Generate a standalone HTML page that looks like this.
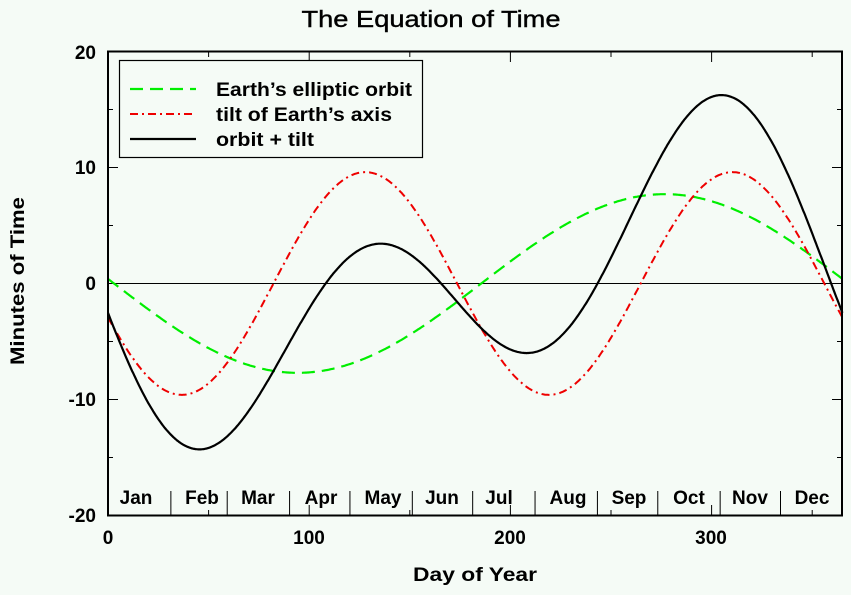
<!DOCTYPE html>
<html><head><meta charset="utf-8"><style>
body{margin:0;background:#f5fbf6;}
svg{display:block;font-family:"Liberation Sans",sans-serif;}
</style></head><body>
<svg id="s" width="851" height="595" xmlns="http://www.w3.org/2000/svg">
<rect width="851" height="595" fill="#f5fbf6"/>
<text x="431" y="27" font-size="23" text-anchor="middle" stroke="#000" stroke-width="0.4" textLength="259" lengthAdjust="spacingAndGlyphs">The Equation of Time</text>
<line x1="108" y1="283.5" x2="842" y2="283.5" stroke="#000" stroke-width="1"/>
<g id="ticks" stroke="#000" stroke-width="1"></g>
<g id="curves" fill="none" stroke-width="2.2"></g>
<rect x="108" y="51.5" width="734" height="464" fill="none" stroke="#000" stroke-width="2"/>
<g font-size="19" text-anchor="end" font-weight="bold">
<text x="96" y="59">20</text><text x="96" y="174">10</text><text x="96" y="290">0</text><text x="96" y="406">-10</text><text x="96" y="522">-20</text>
</g>
<g font-size="19" text-anchor="middle" font-weight="bold">
<text x="108" y="544">0</text><text x="309" y="544">100</text><text x="510" y="544">200</text><text x="711" y="544">300</text>
<text x="475" y="581" textLength="124" lengthAdjust="spacingAndGlyphs">Day of Year</text>
</g>
<text transform="translate(24,281) rotate(-90)" font-size="19" text-anchor="middle" font-weight="bold" textLength="168" lengthAdjust="spacingAndGlyphs">Minutes of Time</text>
<g font-size="19" font-weight="bold" text-anchor="middle" id="months"></g>
<rect x="119.5" y="60.5" width="303" height="97" fill="#f5fbf6" stroke="#000" stroke-width="1.2"/>
<line x1="130" y1="89" x2="196" y2="89" stroke="#00ee00" stroke-width="2.2" stroke-dasharray="13,7"/>
<line x1="130" y1="114" x2="196" y2="114" stroke="#ee0000" stroke-width="2" stroke-dasharray="8,4,2,4"/>
<line x1="130" y1="139" x2="196" y2="139" stroke="#000" stroke-width="2.2"/>
<g font-size="19" font-weight="bold"><text x="216" y="96" textLength="196" lengthAdjust="spacingAndGlyphs">Earth’s elliptic orbit</text><text x="216" y="121" textLength="176" lengthAdjust="spacingAndGlyphs">tilt of Earth’s axis</text><text x="216" y="146" textLength="98" lengthAdjust="spacingAndGlyphs">orbit + tilt</text></g>
</svg>
<script>
var NS="http://www.w3.org/2000/svg";
function X(d){return 108+d*2.012;}function Y(v){return 283.5-v*11.6;}
function g(d){return -7.7*Math.sin(2*Math.PI*(d-3)/365);}
function r(d){return -9.6*Math.sin(4*Math.PI*(d+9)/365);}
function path(f,col,dash,w){var p="";for(var d=0;d<=365;d+=0.5){p+=(d?"L":"M")+X(d).toFixed(1)+","+Y(f(d)).toFixed(1);}
var e=document.createElementNS(NS,"path");e.setAttribute("d",p);e.setAttribute("stroke",col);if(dash)e.setAttribute("stroke-dasharray",dash);if(w)e.setAttribute("stroke-width",w);document.getElementById("curves").appendChild(e);}
path(g,"#00ee00","13,7");path(r,"#ee0000","8,4,2,4","2");path(function(d){return g(d)+r(d);},"#000");
var t=document.getElementById("ticks");
function L(a,b,c,d){var e=document.createElementNS(NS,"line");e.setAttribute("x1",a);e.setAttribute("y1",b);e.setAttribute("x2",c);e.setAttribute("y2",d);t.appendChild(e);}
for(var d=50;d<365;d+=50){var x=X(d),l=(d%100==0)?10:5;L(x,515,x,515-l);L(x,52,x,52+l);}
for(var v=-15;v<=15;v+=5){var y=Y(v),l=(v%10==0)?10:5;L(108,y,108+l,y);L(842,y,842-l,y);}
[31,59,90,120,151,181,212,243,273,304,334].forEach(function(d){var x=X(d)+0.5;L(x,491,x,515);});
var m=["Jan","Feb","Mar","Apr","May","Jun","Jul","Aug","Sep","Oct","Nov","Dec"],mx=[136,202,258,321,383,442,499,568,629,689,750,812];
var G=document.getElementById("months");m.forEach(function(s,i){var e=document.createElementNS(NS,"text");e.setAttribute("x",mx[i]);e.setAttribute("y",504);e.textContent=s;G.appendChild(e);});
</script>
</body></html>
